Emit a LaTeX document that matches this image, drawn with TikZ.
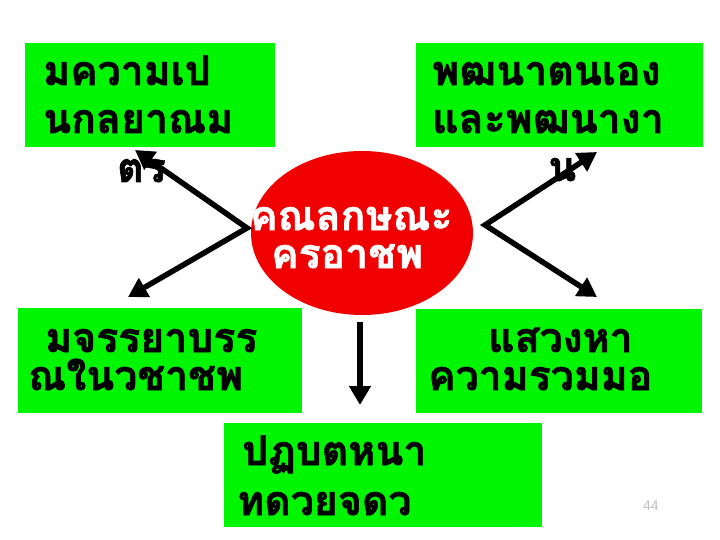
\documentclass[tikz,border=0pt]{standalone}
\usepackage{fontspec}
\setmainfont{Liberation Sans}
\newfontfamily\thaifont[Script=Thai, BoldFeatures={FakeBold=1.5}]{Loma}
\usetikzlibrary{arrows.meta,shapes.geometric}
\definecolor{boxgreen}{RGB}{0,245,0}
\definecolor{ovalred}{RGB}{240,0,0}
\begin{document}
\begin{tikzpicture}[x=1pt,y=-1pt,
  gbox/.style={fill=boxgreen, draw=none, inner sep=0pt, anchor=north west},
  thtxt/.style={font=\thaifont\bfseries\fontsize{41}{48}\selectfont, anchor=base west, inner sep=0pt, text height=20pt, text depth=1pt},
  bigtri/.tip={Triangle[length=19pt,width=21pt]},
  arr/.style={line width=5.5pt, line join=miter}]
\useasboundingbox (0,0) rectangle (720,540);
% boxes
\node[gbox, minimum width=250pt, minimum height=104pt] (b1) at (25,43) {};
\node[gbox, minimum width=287pt, minimum height=104pt] (b2) at (416,43) {};
\node[gbox, minimum width=284pt, minimum height=105pt] (b3) at (18,308) {};
\node[gbox, minimum width=286pt, minimum height=104pt] (b4) at (416,309) {};
\node[gbox, minimum width=318pt, minimum height=104pt] (b5) at (224,423) {};
\node[ellipse, fill=ovalred, draw=none, inner sep=0pt, minimum width=222pt, minimum height=164pt] (e) at (362,233) {};
% texts
\node[thtxt] (t1a) at (43,85) {มความเป};
\node[thtxt] (t1b) at (43,133) {นกลยาณม};
\node[thtxt] (t1c) at (117,182) {ตร};
\node[thtxt] (t2a) at (432,85) {พฒนาตนเอง};
\node[thtxt] (t2b) at (432,133) {และพฒนางา};
\node[thtxt] (t2c) at (548,181) {น};
\node[thtxt, text=white] (tea) at (250,230) {คณลกษณะ};
\node[thtxt, text=white] (teb) at (271,268) {ครอาชพ};
\node[thtxt] (t3a) at (45,352) {มจรรยาบรร};
\node[thtxt] (t3b) at (28,390) {ณในวชาชพ};
\node[thtxt] (t4a) at (488,352) {แสวงหา};
\node[thtxt] (t4b) at (428,390) {ความรวมมอ};
\node[thtxt] (t5a) at (242,465) {ปฏบตหนา};
\node[thtxt] (t5b) at (237,515) {ทดวยจดว};
\node[font=\fontsize{14}{16}\selectfont, text=black!25, anchor=base west, inner sep=0pt] (pg) at (643,510) {44};
% connectors
\coordinate (lv) at (247,228);
\coordinate (ulTip) at (135,150);
\coordinate (llTip) at (128,297);
\coordinate (rv) at (485,225);
\coordinate (urTip) at (597,152);
\coordinate (lrTip) at (597,297);
\draw[arr, bigtri-bigtri] (ulTip) -- (lv) -- (llTip);
\draw[arr, bigtri-bigtri] (urTip) -- (rv) -- (lrTip);
\draw[arr, -bigtri, shorten <=7pt, shorten >=18pt] ([xshift=-2pt]e.south) -- ([xshift=-2pt]e.south |- b5.north);
\end{tikzpicture}
\end{document}
